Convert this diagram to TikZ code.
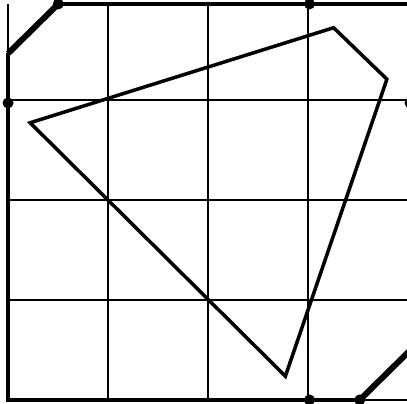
\documentclass[tikz,border=0pt]{standalone}
\usetikzlibrary{calc}
\begin{document}
\begin{tikzpicture}[x=1.005cm,y=0.99cm,
    gridline/.style={line width=0.7pt},
    edgeline/.style={line width=1.3pt},
    cutline/.style={line width=1.7pt},
    polyline/.style={line width=1pt,line join=miter},
    latdot/.style={circle,fill,inner sep=0pt,minimum size=1.1mm}]
    \useasboundingbox (-0.08,-0.04) rectangle (3.97,4.04);
    \clip (-0.08,-0.04) rectangle (3.97,4.04);
    \draw[gridline] (0,0) grid (4,4);
    \draw[edgeline] (0,3.5) -- (0,0) -- (3.5,0);
    \draw[edgeline] (0.5,4) -- (4,4) -- (4,0.5);
    \draw[cutline] (0,3.5) -- (0.5,4);
    \draw[cutline] (3.5,0) -- (4,0.5);
    \coordinate (a) at (0.22,2.8);
    \coordinate (b) at (3.24,3.76);
    \coordinate (c) at (3.77,3.24);
    \coordinate (d) at (2.76,0.24);
    \draw[polyline] (a) -- (b) -- (c) -- (d) -- cycle;
    \foreach \p [count=\i] in {(0.5,4),(3,4),(0,3),(4,3),(3,0),(3.5,0)}
        \node[latdot] (p\i) at \p {};
\end{tikzpicture}
\end{document}
